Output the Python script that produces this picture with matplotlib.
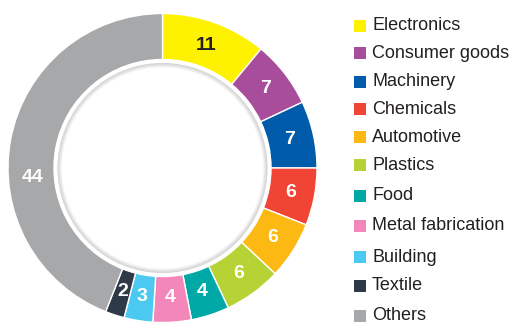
import numpy as np
import matplotlib.pyplot as plt
from matplotlib.patches import Circle, Rectangle

sectors = ["Electronics", "Consumer goods", "Machinery", "Chemicals", "Automotive",
           "Plastics", "Food", "Metal fabrication", "Building", "Textile", "Others"]
shares = [11, 7, 7, 6, 6, 6, 4, 4, 3, 2, 44]
colors = ["#FFF200", "#A84C9C", "#005BAA", "#F04434", "#FDB913",
          "#B5D334", "#00A9A6", "#F387BA", "#4CC9F0", "#2E3A48", "#A7A8AA"]

plt.rcParams['font.family'] = ['Liberation Sans', 'DejaVu Sans']

W, H = 512, 326
fig = plt.figure(figsize=(W/100, H/100), dpi=100)
ax = fig.add_axes([0, 0, 1, 1])

cx, cy = 162.5, H - 168
r_out, r_in = 154.5, 108.5

ax.pie(shares, colors=colors, startangle=90, counterclock=False, center=(cx, cy),
       radius=r_out, wedgeprops=dict(width=r_out - r_in, edgecolor="white", linewidth=1.0),
       frame=True)
ax.set_xlim(0, W)
ax.set_ylim(0, H)
ax.set_aspect('equal')
ax.axis('off')

# soft grey shadow just inside the ring
for k in range(7):
    ax.add_patch(Circle((cx, cy), 106 - k * 0.8, facecolor="none",
                        edgecolor="#bdbdbd", linewidth=1.2, alpha=0.5 * (1 - k / 7)))
ax.add_patch(Circle((cx, cy), 106.8, facecolor="none", edgecolor="white", linewidth=2.5))

# value labels on the ring
total = sum(shares)
start = 0.0
for i, v in enumerate(shares):
    mid = (start + v / 2) / total * 360
    start += v
    if i == len(shares) - 1:
        mid = 266
    rr = 130
    x = cx + rr * np.sin(np.radians(mid))
    y = cy + rr * np.cos(np.radians(mid))
    ax.text(x, y, str(v), ha="center", va="center", fontsize=14, fontweight="bold",
            color="#231f20" if i == 0 else "white")

# legend
legend_y = [26, 53, 82, 109, 137, 165, 196, 226, 257, 286, 316]
for name, col, ly in zip(sectors, colors, legend_y):
    ax.add_patch(Rectangle((354, H - ly - 6), 12, 12, facecolor=col, edgecolor="none"))
    ax.text(372, H - ly, name, ha="left", va="center", fontsize=13, color="#231f20")

fig.savefig("out.png", dpi=100)
